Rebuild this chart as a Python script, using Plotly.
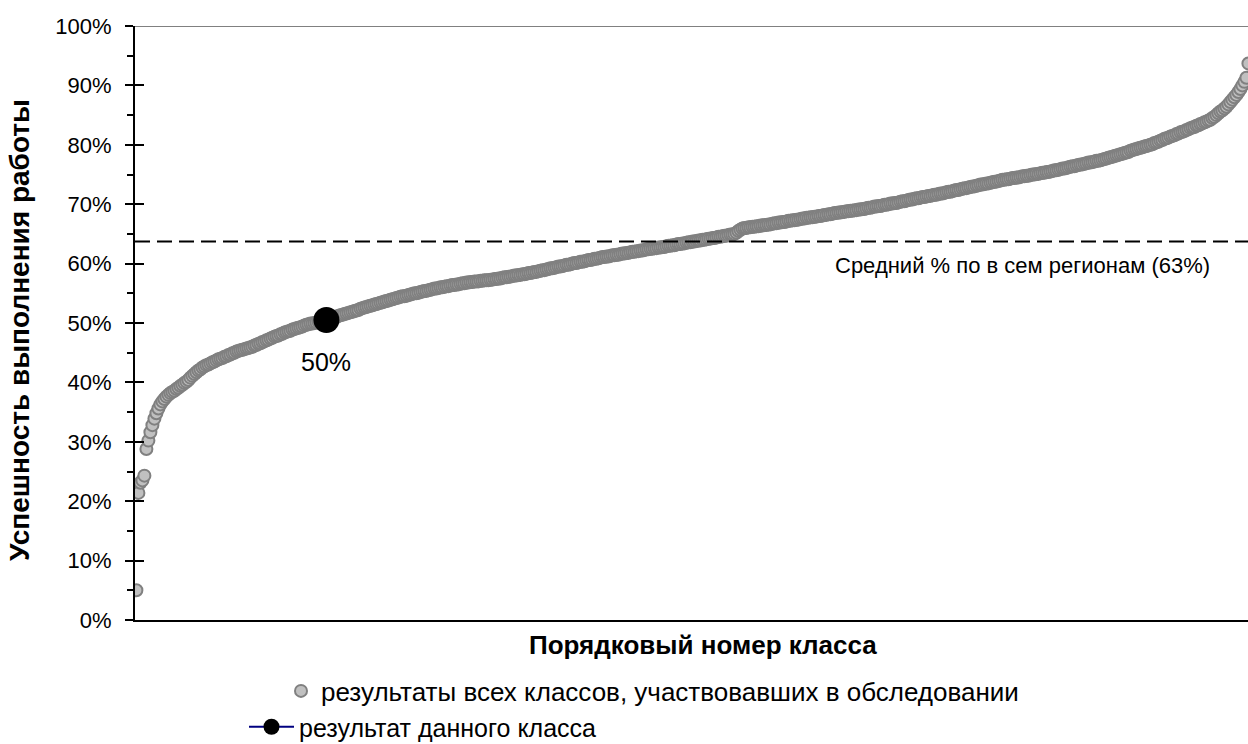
import plotly.graph_objects as go

# Sorted results of all classes (% of task completion)
all_results = [
    5.0, 21.4, 23.1, 23.5, 24.3, 28.8, 30.2, 31.6, 32.8, 33.9,
    34.8, 35.6, 36.3, 36.8, 37.2, 37.6, 37.9, 38.2, 38.4, 38.6,
    38.9, 39.1, 39.4, 39.6, 39.9, 40.1, 40.4, 40.8, 41.1, 41.4,
    41.7, 42.0, 42.2, 42.5, 42.7, 42.9, 43.0, 43.2, 43.4, 43.5,
    43.7, 43.9, 44.0, 44.1, 44.3, 44.4, 44.6, 44.7, 44.9, 45.0,
    45.2, 45.3, 45.4, 45.5, 45.6, 45.7, 45.8, 45.9, 46.0, 46.2,
    46.3, 46.5, 46.6, 46.8, 46.9, 47.1, 47.2, 47.4, 47.5, 47.7,
    47.8, 47.9, 48.1, 48.2, 48.4, 48.5, 48.6, 48.7, 48.9, 49.0,
    49.1, 49.2, 49.3, 49.4, 49.6, 49.7, 49.8, 49.9, 49.9, 50.0,
    50.1, 50.2, 50.3, 50.3, 50.4, 50.5, 50.6, 50.7, 50.8, 50.9,
    51.0, 51.2, 51.3, 51.4, 51.5, 51.6, 51.7, 51.8, 51.9, 52.0,
    52.1, 52.2, 52.4, 52.5, 52.6, 52.7, 52.8, 52.9, 53.0, 53.1,
    53.2, 53.3, 53.4, 53.5, 53.6, 53.7, 53.8, 53.9, 54.0, 54.1,
    54.2, 54.3, 54.4, 54.5, 54.5, 54.6, 54.7, 54.8, 54.9, 55.0,
    55.0, 55.1, 55.2, 55.3, 55.4, 55.4, 55.5, 55.6, 55.7, 55.8,
    55.8, 55.9, 56.0, 56.0, 56.1, 56.2, 56.2, 56.3, 56.4, 56.4,
    56.5, 56.5, 56.6, 56.7, 56.7, 56.8, 56.8, 56.9, 56.9, 57.0,
    57.0, 57.0, 57.1, 57.1, 57.2, 57.2, 57.2, 57.3, 57.3, 57.4,
    57.4, 57.5, 57.5, 57.6, 57.7, 57.7, 57.8, 57.8, 57.9, 58.0,
    58.0, 58.1, 58.1, 58.2, 58.2, 58.3, 58.4, 58.4, 58.5, 58.6,
    58.6, 58.7, 58.8, 58.9, 58.9, 59.0, 59.1, 59.2, 59.2, 59.3,
    59.4, 59.5, 59.5, 59.6, 59.7, 59.8, 59.8, 59.9, 60.0, 60.1,
    60.1, 60.2, 60.3, 60.3, 60.4, 60.5, 60.6, 60.6, 60.7, 60.8,
    60.8, 60.9, 61.0, 61.1, 61.1, 61.2, 61.2, 61.3, 61.4, 61.4,
    61.5, 61.5, 61.6, 61.7, 61.7, 61.8, 61.8, 61.9, 62.0, 62.0,
    62.1, 62.1, 62.2, 62.2, 62.3, 62.4, 62.4, 62.5, 62.5, 62.6,
    62.6, 62.7, 62.7, 62.8, 62.8, 62.9, 63.0, 63.0, 63.1, 63.1,
    63.2, 63.3, 63.3, 63.4, 63.4, 63.5, 63.6, 63.6, 63.7, 63.7,
    63.8, 63.9, 63.9, 64.0, 64.0, 64.1, 64.2, 64.2, 64.3, 64.3,
    64.4, 64.5, 64.5, 64.6, 64.7, 64.7, 64.8, 64.9, 64.9, 65.0,
    65.2, 65.5, 65.7, 65.9, 66.0, 66.0, 66.1, 66.1, 66.2, 66.2,
    66.3, 66.3, 66.4, 66.4, 66.5, 66.5, 66.6, 66.6, 66.7, 66.8,
    66.8, 66.9, 66.9, 67.0, 67.0, 67.1, 67.2, 67.2, 67.3, 67.3,
    67.4, 67.4, 67.5, 67.6, 67.6, 67.7, 67.7, 67.8, 67.8, 67.9,
    67.9, 68.0, 68.0, 68.1, 68.2, 68.2, 68.3, 68.3, 68.4, 68.5,
    68.5, 68.6, 68.6, 68.7, 68.7, 68.8, 68.8, 68.9, 68.9, 69.0,
    69.0, 69.1, 69.1, 69.2, 69.2, 69.3, 69.4, 69.4, 69.5, 69.6,
    69.6, 69.7, 69.7, 69.8, 69.9, 69.9, 70.0, 70.1, 70.1, 70.2,
    70.2, 70.3, 70.4, 70.5, 70.5, 70.6, 70.7, 70.8, 70.8, 70.9,
    71.0, 71.0, 71.1, 71.2, 71.2, 71.3, 71.4, 71.4, 71.5, 71.6,
    71.6, 71.7, 71.8, 71.8, 71.9, 72.0, 72.1, 72.1, 72.2, 72.3,
    72.4, 72.4, 72.5, 72.6, 72.7, 72.7, 72.8, 72.9, 73.0, 73.0,
    73.1, 73.2, 73.3, 73.3, 73.4, 73.5, 73.5, 73.6, 73.7, 73.8,
    73.8, 73.9, 74.0, 74.1, 74.1, 74.2, 74.2, 74.3, 74.4, 74.4,
    74.5, 74.5, 74.6, 74.7, 74.7, 74.8, 74.8, 74.9, 75.0, 75.0,
    75.1, 75.1, 75.2, 75.3, 75.3, 75.4, 75.4, 75.5, 75.6, 75.7,
    75.7, 75.8, 75.9, 76.0, 76.0, 76.1, 76.2, 76.3, 76.4, 76.4,
    76.5, 76.6, 76.7, 76.7, 76.8, 76.9, 77.0, 77.0, 77.1, 77.2,
    77.3, 77.3, 77.4, 77.5, 77.6, 77.7, 77.8, 77.9, 78.0, 78.1,
    78.2, 78.3, 78.4, 78.5, 78.6, 78.7, 78.8, 79.0, 79.1, 79.2,
    79.3, 79.4, 79.5, 79.6, 79.7, 79.8, 79.9, 80.0, 80.1, 80.3,
    80.4, 80.5, 80.7, 80.8, 81.0, 81.1, 81.2, 81.4, 81.5, 81.6,
    81.8, 81.9, 82.1, 82.2, 82.3, 82.5, 82.6, 82.8, 82.9, 83.0,
    83.2, 83.3, 83.5, 83.6, 83.8, 83.9, 84.1, 84.2, 84.5, 84.7,
    85.0, 85.3, 85.6, 85.8, 86.1, 86.4, 86.8, 87.2, 87.6, 88.0,
    88.4, 88.9, 89.4, 90.0, 90.6, 91.3, 93.7,
]
class_numbers = list(range(1, len(all_results) + 1))

this_class_number = [96]
this_class_result = [50.5]

regional_mean = 63.7

y_ticks = list(range(0, 101, 10))
y_tick_labels = [f"{t}%" for t in y_ticks]

all_name = "результаты всех классов, участвовавших в обследовании"
this_name = "результат данного класса"
mean_label = f"Средний % по в сем регионам ({int(regional_mean)}%)"
x_title = "Порядковый номер класса"
y_title = "Успешность выполнения работы"

FONT = "Liberation Sans, Arial, sans-serif"

fig = go.Figure()
fig.add_trace(go.Scatter(
    x=class_numbers, y=all_results, mode="markers", name=all_name,
    marker=dict(size=12, color="#c0c0c0", line=dict(color="#808080", width=2)),
    legend="legend", hoverinfo="skip",
))
fig.add_trace(go.Scatter(
    x=this_class_number, y=this_class_result, mode="lines+markers", name=this_name,
    marker=dict(size=26, color="black"), line=dict(color="#000080", width=2),
    legend="legend2", hoverinfo="skip",
))
# invisible trace for the secondary axis carrying the inside half of the ticks
fig.add_trace(go.Scatter(x=[class_numbers[0]], y=[regional_mean], yaxis="y2",
                         mode="markers", marker=dict(opacity=0), showlegend=False,
                         hoverinfo="skip"))

L, R, T, B = 135, 0, 26, 124
W, H = 1248, 744
pw, ph = W - L - R, H - T - B


def px(x):
    return (x - L) / pw


def py(y):
    return (H - B - y) / ph


fig.update_layout(
    width=W, height=H,
    margin=dict(l=L, r=R, t=T, b=B, autoexpand=False),
    paper_bgcolor="white", plot_bgcolor="white",
    font=dict(family=FONT, size=22, color="black"),
    xaxis=dict(range=[0.3, 556.8], showgrid=False, zeroline=False, automargin=False,
               showline=True, linecolor="black", linewidth=2,
               showticklabels=False, ticks=""),
    yaxis=dict(range=[0, 100], tickvals=y_ticks, ticktext=y_tick_labels,
               automargin=False,
               showgrid=False, zeroline=False, showline=True, linecolor="black",
               linewidth=2, ticks="outside", ticklen=8, tickwidth=2, tickcolor="black",
               ticklabelstandoff=9, tickfont=dict(size=22),
               minor=dict(dtick=5, ticks="outside", ticklen=6, tickwidth=1.5,
                          tickcolor="black")),
    yaxis2=dict(range=[0, 100], overlaying="y", side="left", anchor="x",
                automargin=False,
                tickvals=y_ticks, ticks="inside", ticklen=9, tickwidth=2,
                tickcolor="black", showticklabels=False, showgrid=False,
                zeroline=False, showline=False),
    legend=dict(x=px(281), y=py(691), xanchor="left", yanchor="middle",
                font=dict(size=26), bgcolor="rgba(0,0,0,0)"),
    legend2=dict(x=px(244), y=py(727), xanchor="left", yanchor="middle",
                 itemwidth=45, font=dict(size=25), bgcolor="rgba(0,0,0,0)"),
    shapes=[
        dict(type="line", xref="paper", yref="y", x0=0, x1=1, y0=regional_mean,
             y1=regional_mean, line=dict(color="black", width=2, dash="15px,7px")),
        dict(type="line", xref="paper", yref="y", x0=0, x1=1, y0=100, y1=100,
             line=dict(color="#808080", width=2)),
    ],
    annotations=[
        dict(x=this_class_number[0], y=this_class_result[0], xref="x", yref="y",
             text=f"{int(this_class_result[0])}%", showarrow=False, yshift=-42,
             xanchor="center", yanchor="middle", font=dict(size=25)),
        dict(x=px(1022), y=regional_mean, xref="paper", yref="y", text=mean_label,
             showarrow=False, yshift=-24, xanchor="center", yanchor="middle",
             font=dict(size=22)),
        dict(x=px(703), y=py(645), xref="paper", yref="paper", text=f"<b>{x_title}</b>",
             showarrow=False, xanchor="center", yanchor="middle", font=dict(size=26)),
        dict(x=px(19), y=py(330), xref="paper", yref="paper", text=f"<b>{y_title}</b>",
             showarrow=False, textangle=-90, xanchor="center", yanchor="middle",
             font=dict(size=28)),
    ],
)

fig.write_html("out.html", config={"displayModeBar": False},
               post_script="document.body.style.margin='0';document.body.style.overflow='hidden';")
